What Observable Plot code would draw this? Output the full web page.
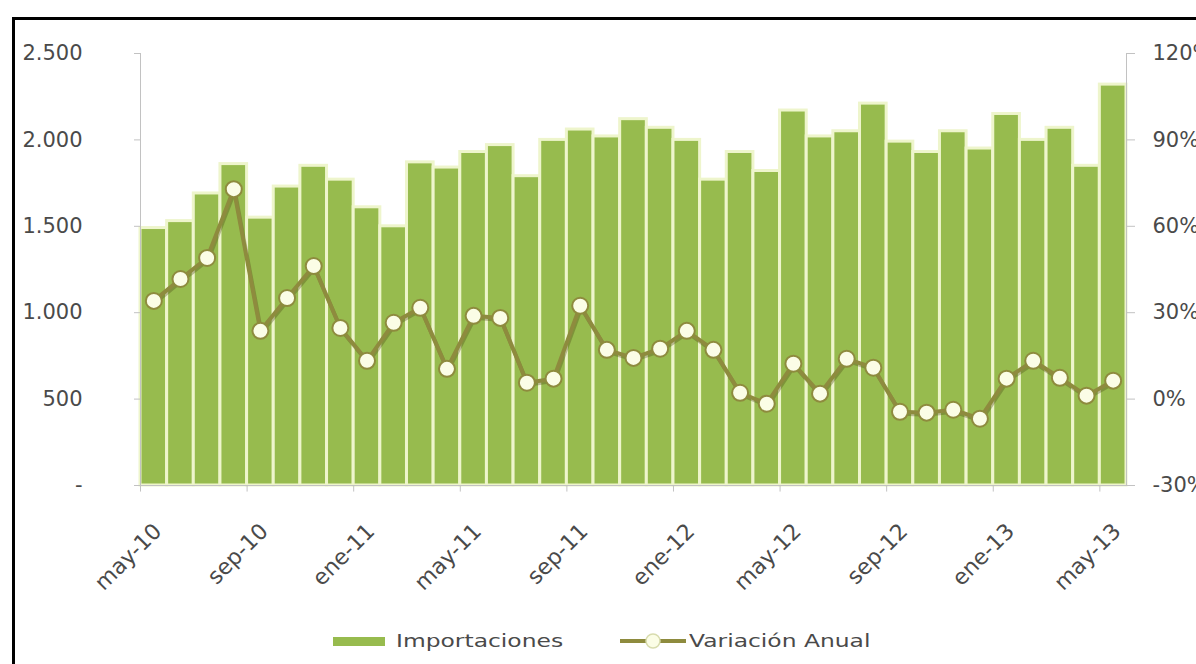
<!DOCTYPE html>
<html>
<head>
<meta charset="utf-8">
<script src="https://cdn.jsdelivr.net/npm/d3@7"></script>
<script src="https://cdn.jsdelivr.net/npm/@observablehq/plot@0.6"></script>
<style>
  body { margin: 0; background: #fff; font-family: "DejaVu Sans", sans-serif; }
  #wrap { position: relative; width: 1196px; height: 664px; overflow: hidden; background: #fff; }
  #chart { position: absolute; left: 0; top: 0; }
  #frame { position: absolute; left: 12px; top: 17px; width: 1400px; height: 800px;
           border-left: 3px solid #000; border-top: 3px solid #000; pointer-events: none; }
  #legend { position: absolute; left: 0; top: 626px; width: 1196px; height: 30px; color: #4a4a4a;
            font-family: "DejaVu Sans", sans-serif; font-size: 18px; }
  .sw { position: absolute; top: 11px; left: 333px; width: 52px; height: 9px; background: #97bb4e; }
  .lab { position: absolute; top: 4px; line-height: 22px; white-space: nowrap;
         transform: scaleX(1.3); transform-origin: left center; }
  #lsym { position: absolute; left: 618px; top: 0; }
</style>
</head>
<body>
<div id="wrap">
  <div id="chart"></div>
  <div id="legend">
    <div class="sw"></div>
    <div class="lab" style="left:396px">Importaciones</div>
    <svg id="lsym" width="70" height="30">
      <line x1="2" y1="15" x2="68" y2="15" stroke="#8e8b3e" stroke-width="4"></line>
      <circle cx="35" cy="15" r="7" fill="#fbfde6" stroke="#d8dcae" stroke-width="1.5"></circle>
    </svg>
    <div class="lab" style="left:689px">Variación Anual</div>
  </div>
  <div id="frame"></div>
</div>
<script>
// ---- data ----
const months = ["may-10","jun-10","jul-10","ago-10","sep-10","oct-10","nov-10","dic-10",
  "ene-11","feb-11","mar-11","abr-11","may-11","jun-11","jul-11","ago-11","sep-11","oct-11","nov-11","dic-11",
  "ene-12","feb-12","mar-12","abr-12","may-12","jun-12","jul-12","ago-12","sep-12","oct-12","nov-12","dic-12",
  "ene-13","feb-13","mar-13","abr-13","may-13"];
const importaciones = [1490,1530,1690,1860,1550,1730,1850,1770,
  1610,1500,1870,1840,1930,1970,1790,2000,2060,2020,2120,2070,
  2000,1770,1930,1820,2170,2020,2050,2210,1990,1930,2050,1950,
  2150,2000,2070,1850,2320];
const variacionAnual = [34.1,41.7,49,72.9,23.7,35.1,46.2,24.7,
  13.3,26.5,31.7,10.5,28.9,28.2,5.7,7.1,32.4,17.1,14.3,17.5,
  23.7,17.1,2.2,-1.6,12.3,1.9,14,10.9,-4.4,-4.7,-3.7,-6.8,
  7.1,13.3,7.4,1.2,6.4];
const xTickLabels = ["may-10","sep-10","ene-11","may-11","sep-11","ene-12","may-12","sep-12","ene-13","may-13"];
const leftTicks = [0,500,1000,1500,2000,2500];
const rightTicks = [-30,0,30,60,90,120];

// ---- layout ----
const W = 1196, H = 610;
const x0 = 140, x1 = 1126, yTop = 53, yBot = 485;
const bw = (x1 - x0) / months.length;

// map the right (percent) axis onto the left axis units
const pctToY = d3.scaleLinear().domain([-30, 120]).range([0, 2500]);
const data = months.map((m, i) => ({ m, imp: importaciones[i], pct: variacionAnual[i], v: pctToY(variacionAnual[i]) }));

const fmtLeft = d => d === 0 ? "-" : d3.format(",")(d).replace(/,/g, ".");
const axisGray = "#c2c2c2";
const textCol = "#4a4a4a";

const chart = Plot.plot({
  width: W, height: H,
  marginLeft: x0, marginRight: W - x1, marginTop: yTop, marginBottom: H - yBot,
  x: { type: "band", domain: months, padding: 0, round: false, label: null },
  y: { domain: [0, 2500], label: null },
  style: { fontFamily: "DejaVu Sans, sans-serif", fontSize: "21px", color: textCol, background: "#fff", overflow: "visible" },
  marks: [
    Plot.barY(data, { x: "m", y: "imp", fill: "#97bb4e", stroke: "#eef5cc", strokeWidth: 3 }),
    Plot.frame({ anchor: "left", stroke: axisGray }),
    Plot.frame({ anchor: "right", stroke: axisGray }),
    Plot.ruleY([0], { stroke: axisGray }),
    Plot.axisY({ ticks: leftTicks, tickSize: 6, tickPadding: 52, tickFormat: fmtLeft, stroke: axisGray, fill: textCol, label: null }),
    Plot.axisY({ anchor: "right", ticks: rightTicks.map(p => pctToY(p)), tickSize: 8, tickPadding: 18,
      tickFormat: v => Math.round(pctToY.invert(v)) + "%", stroke: axisGray, fill: textCol, label: null }),
    // month tick marks at the left edge of each labelled month
    Plot.ruleX(xTickLabels, { x: d => d, y1: 0, y2: -38, dx: -bw / 2, stroke: axisGray }),
    Plot.axisX({ ticks: xTickLabels, tickSize: 0, tickPadding: 42, tickRotate: -45, dx: 4, fill: textCol, fontSize: 22, label: null }),
    Plot.line(data, { x: "m", y: "v", stroke: "#4f4a18", strokeOpacity: 0.35, strokeWidth: 4, dx: 1, dy: 2 }),
    Plot.line(data, { x: "m", y: "v", stroke: "#8e8b3e", strokeWidth: 4 }),
    Plot.dot(data, { x: "m", y: "v", r: 8, fill: "#fbfde6", stroke: "#8e8b3e", strokeWidth: 2 })
  ]
});
document.getElementById("chart").appendChild(chart);
</script>
</body>
</html>
